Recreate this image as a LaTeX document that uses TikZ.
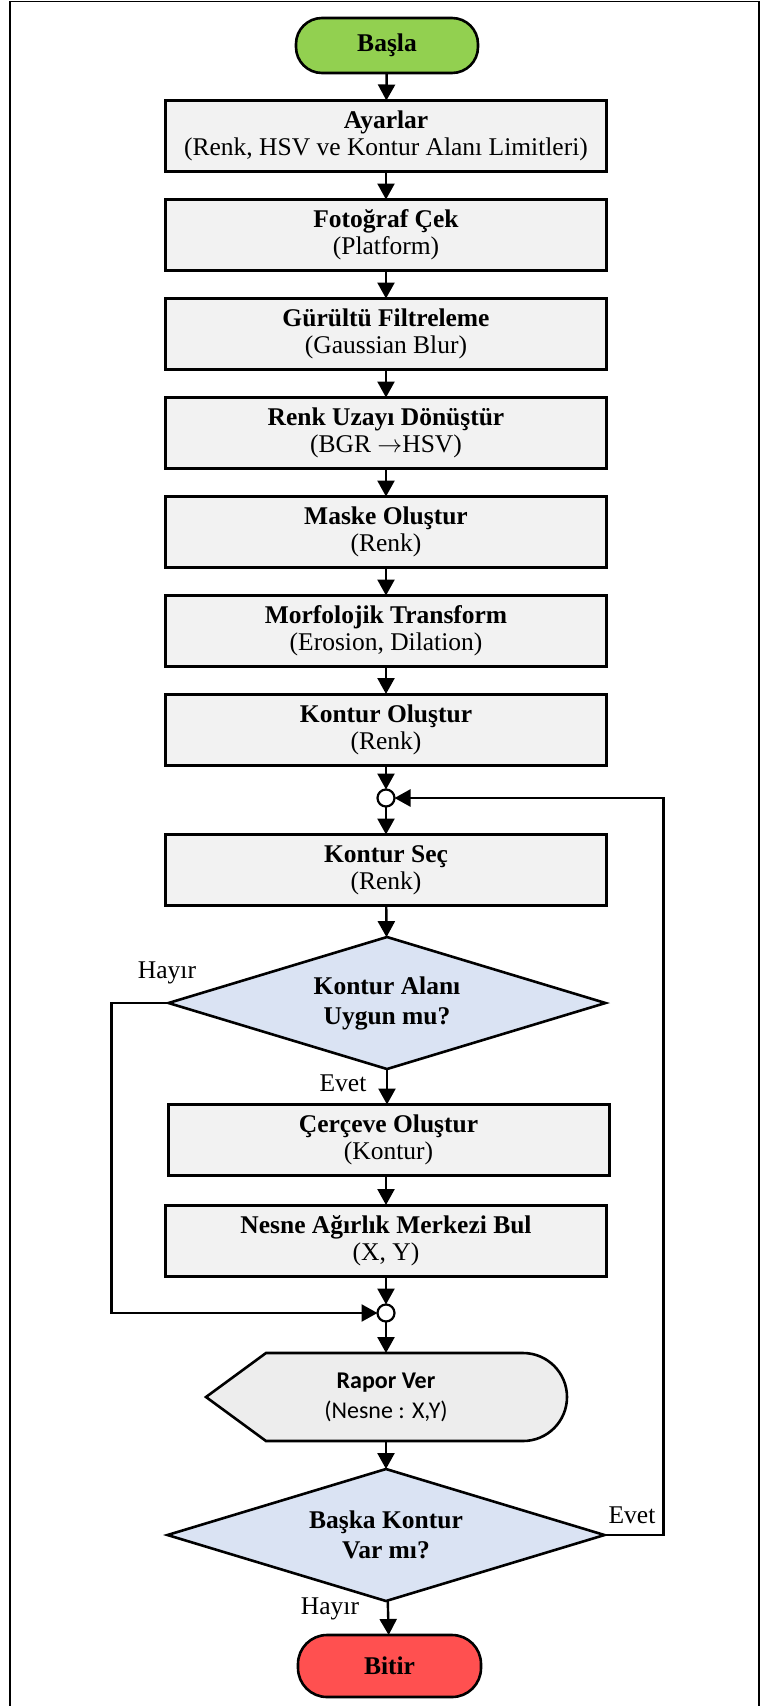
\documentclass[tikz,border=0pt]{standalone}
\usepackage{fontspec}
\setmainfont{Liberation Serif}
\newfontfamily\carlito{Carlito}
\usetikzlibrary{arrows.meta,shapes.geometric}
\definecolor{boxgray}{HTML}{F2F2F2}
\definecolor{repgray}{HTML}{EDEDED}
\definecolor{decblue}{HTML}{DAE3F3}
\definecolor{startgreen}{HTML}{92D050}
\definecolor{endred}{HTML}{FF5050}
\begin{document}
\begin{tikzpicture}[x=1pt,y=-1pt,
 every node/.style={inner sep=0pt, outer sep=0pt},
 arr/.style={line width=2.4pt, -{Triangle[length=16pt,width=17pt]}},
 procbox/.style={draw, line width=3pt, fill=boxgray, minimum width=441pt, minimum height=71pt, align=center, font=\fontsize{25.5}{27}\selectfont},
 term/.style={draw, line width=2.6pt, rounded corners=26pt, minimum width=182pt, minimum height=55pt, font=\bfseries\fontsize{25.5}{27}\selectfont},
 decide/.style={diamond, aspect=3.31, draw, line width=2.6pt, fill=decblue, minimum width=437pt, minimum height=132pt, align=center, font=\bfseries\fontsize{25.5}{30}\selectfont},
 junc/.style={circle, draw, line width=2.2pt, fill=white, minimum size=17pt},
 lbl/.style={font=\fontsize{25.5}{27}\selectfont}]
\useasboundingbox (0,0) rectangle (760,1706);
\draw[line width=1.5pt] (10,1706) -- (10,1.5) -- (759,1.5) -- (759,1706);

\node[term, fill=startgreen] (start) at (387,45.5) {Başla};
\node[procbox] (s1) at (386,136) {\textbf{Ayarlar}\\(Renk, HSV ve Kontur Alanı Limitleri)};
\node[procbox] (s2) at (386,235) {\textbf{Fotoğraf Çek}\\(Platform)};
\node[procbox] (s3) at (386,334) {\textbf{Gürültü Filtreleme}\\(Gaussian Blur)};
\node[procbox] (s4) at (386,433) {\textbf{Renk Uzayı Dönüştür}\\(BGR $\rightarrow$HSV)};
\node[procbox] (s5) at (386,532) {\textbf{Maske Oluştur}\\(Renk)};
\node[procbox] (s6) at (386,631) {\textbf{Morfolojik Transform}\\(Erosion, Dilation)};
\node[procbox] (s7) at (386,729.5) {\textbf{Kontur Oluştur}\\(Renk)};
\node[junc] (j1) at (386,798) {};
\node[procbox] (s8) at (386,870) {\textbf{Kontur Seç}\\(Renk)};
\node[decide] (d1) at (387,1003) {Kontur Alanı\\Uygun mu?};
\node[procbox] (s9) at (388.5,1140) {\textbf{Çerçeve Oluştur}\\(Kontur)};
\node[procbox] (s10) at (386,1240.5) {\textbf{Nesne Ağırlık Merkezi Bul}\\(X, Y)};
\node[junc] (j2) at (386,1313) {};
\draw[line width=2.6pt, fill=repgray] (206,1397) -- (266,1353) -- (523,1353) arc[start angle=90, end angle=-90, radius=44pt] -- (266,1441) -- cycle;
\node (rep) at (386,1397) [minimum width=361pt, minimum height=88pt, align=center, font=\carlito\fontsize{24}{30}\selectfont] {\textbf{Rapor Ver}\\(Nesne : X,Y)};
\node[decide] (d2) at (386,1535) {Başka Kontur\\Var mı?};
\node[term, fill=endred, minimum height=62pt, minimum width=183pt, rounded corners=29pt] (end) at (389.5,1666) {Bitir};

\draw[arr] (start) -- (s1);
\draw[arr] (s1) -- (s2);
\draw[arr] (s2) -- (s3);
\draw[arr] (s3) -- (s4);
\draw[arr] (s4) -- (s5);
\draw[arr] (s5) -- (s6);
\draw[arr] (s6) -- (s7);
\draw[arr] (s7) -- (j1);
\draw[arr] (j1) -- (s8);
\draw[arr] (s8) -- (d1);
\draw[arr] (d1.south) -- (d1.south |- s9.north);
\draw[arr] (s9.south -| s10.north) -- (s10);
\draw[arr] (s10) -- (j2);
\draw[arr] (d1.west) -- ++(-57,0) |- (j2);
\draw[arr] (j2) -- (rep);
\draw[arr] (rep) -- (d2);
\draw[arr] (d2) -- (end);
\draw[arr] (d2.east) -- ++(59,0) |- (j1);

\node[lbl] (l1) at (167,973) {Hayır};
\node[lbl] (l2) at (343,1083) {Evet};
\node[lbl] (l3) at (632,1515) {Evet};
\node[lbl] (l4) at (330,1609) {Hayır};
\end{tikzpicture}
\end{document}
